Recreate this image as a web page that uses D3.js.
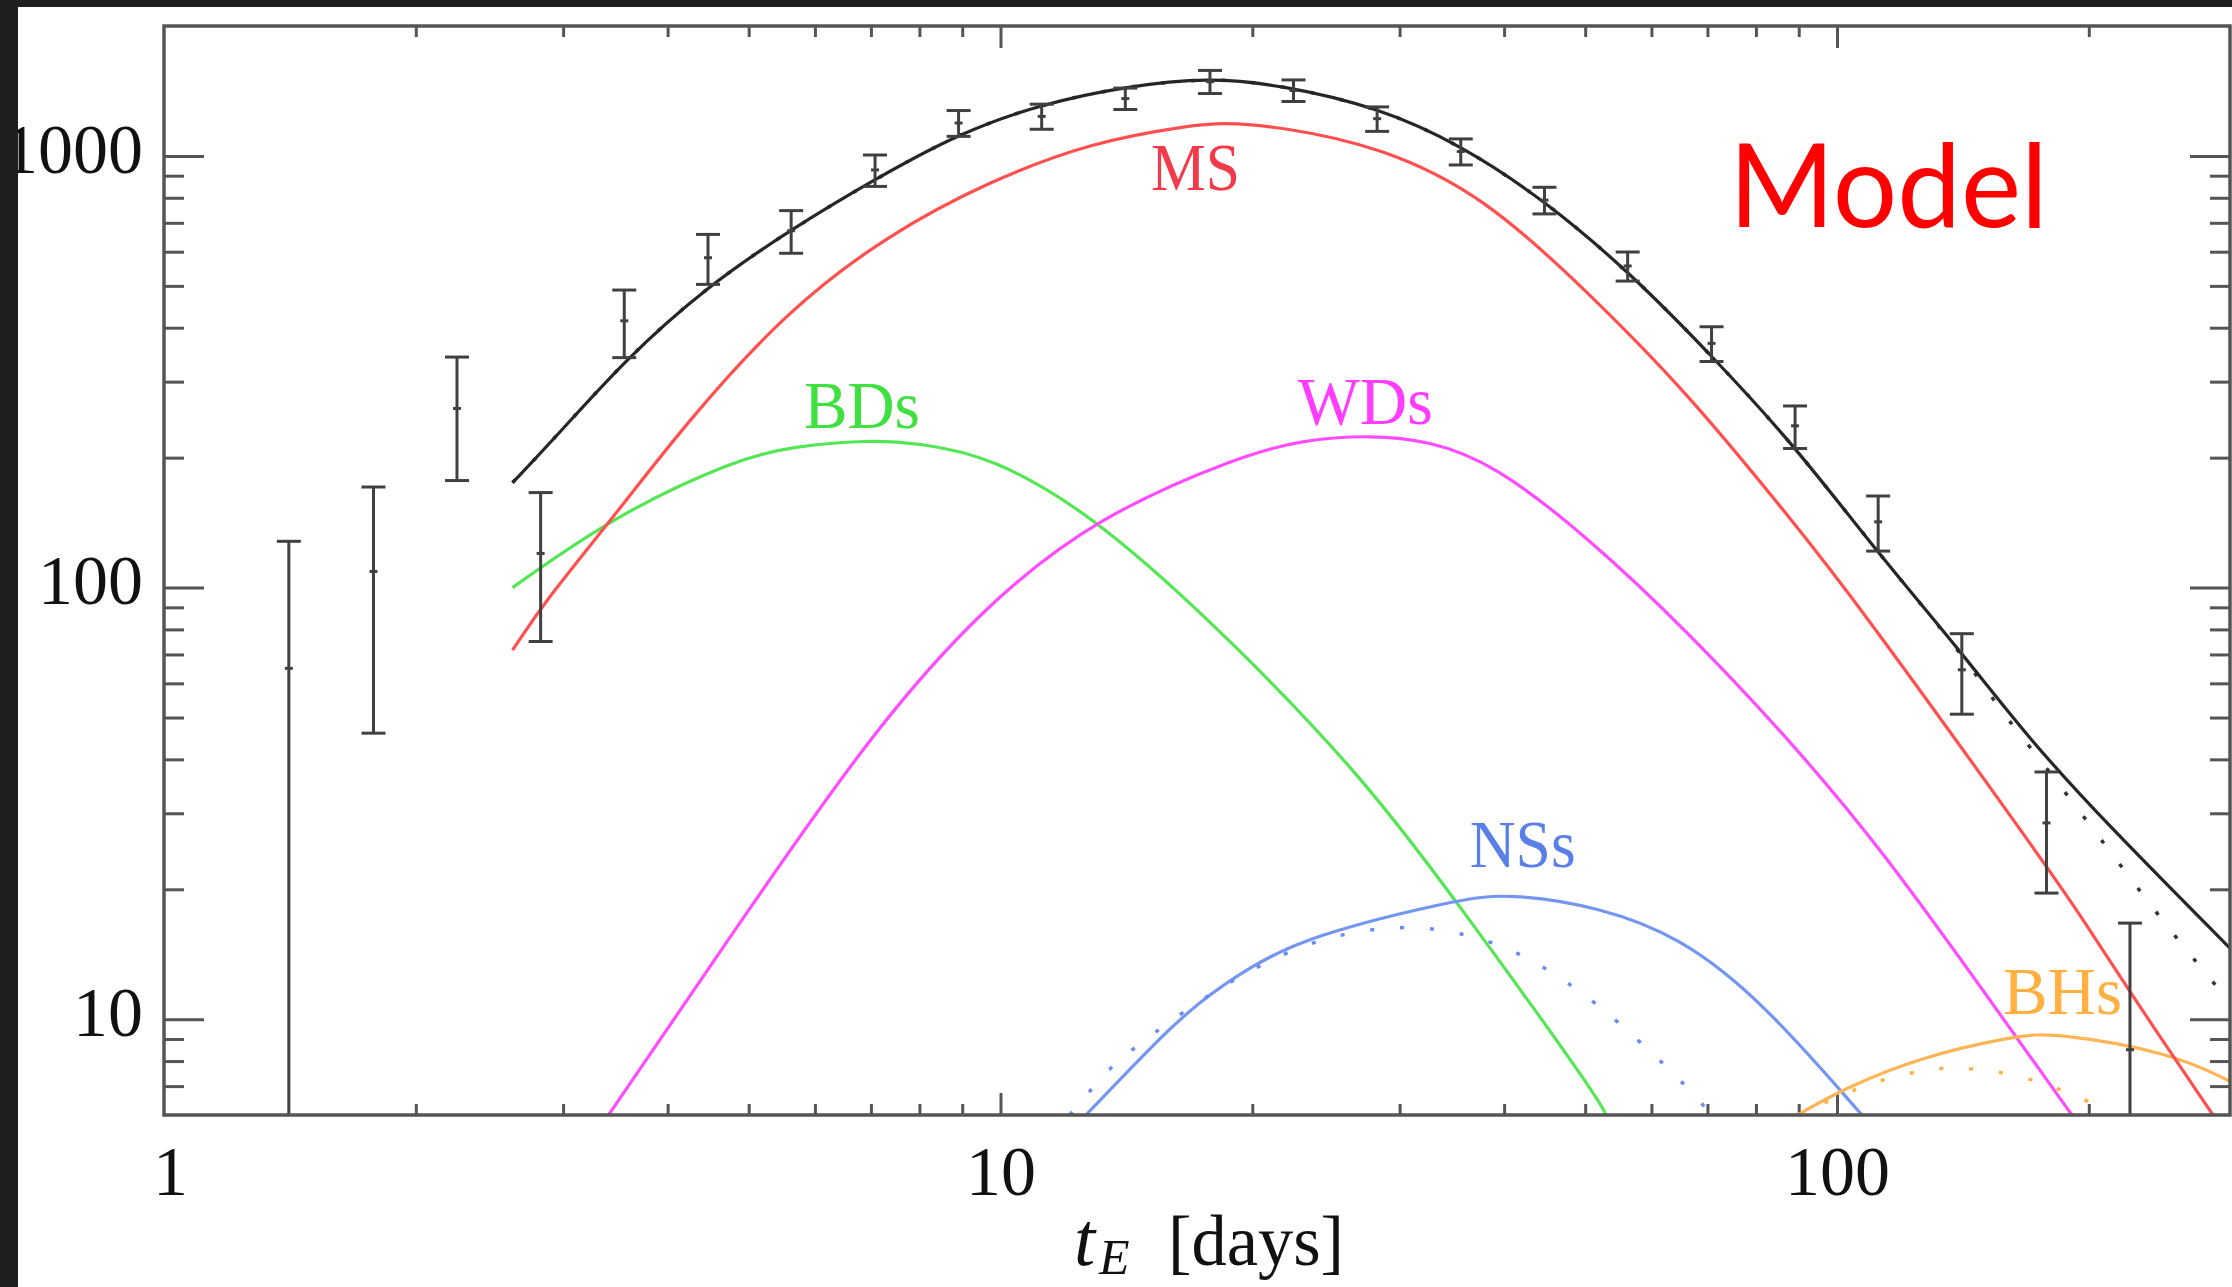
<!DOCTYPE html>
<html>
<head>
<meta charset="utf-8">
<script src="https://cdn.jsdelivr.net/npm/d3@7"></script>
<style>
  html, body { margin: 0; padding: 0; background: #ffffff; }
  svg { display: block; }
</style>
</head>
<body>
<script>
// ---------------- DATA ----------------
// observed event-rate histogram: bin centres (t_E in days), value, error-bar ends
const tBins   = [1.41, 1.78, 2.24, 2.82, 3.55, 4.47, 5.62, 7.08, 8.91, 11.2, 14.1, 17.8, 22.4, 28.2, 35.5, 44.7, 56.2, 70.8, 89.1, 112, 141, 178, 224];
const obsValue = [65, 109, 260, 120, 415, 581, 671, 928, 1192, 1235, 1358, 1486, 1418, 1220, 1024, 790, 556, 368, 237, 142, 64.5, 28.5, 8.5];
const obsLow   = [2, 46, 177, 75, 341, 504, 595, 850, 1110, 1153, 1281, 1395, 1337, 1140, 953, 734, 513, 334, 210, 121.5, 50.9, 19.6, 0.3];
const obsHigh  = [128, 171, 342, 166, 489, 658, 747, 1005, 1274, 1318, 1436, 1578, 1500, 1299, 1095, 846, 599, 402, 263.5, 163, 78.2, 37.4, 16.7];

// model curves: [t_E, value]
const totalModel = [[2.61,175],[2.92,220],[3.56,338],[4.46,499],[5.62,676],[7.08,884],[8.94,1131],[11.18,1318],[14.09,1449],[17.8,1520],[21.59,1460],[28.19,1299],[35.52,1060],[44.77,788],[56.48,538],[70.7,346],[89.07,213],[111.6,121],[140.7,71],[170.1,44.3],[210.3,28.3],[296.6,14.45]];
const totalModelAlt = [[2.61,175],[2.92,220],[3.56,338],[4.46,499],[5.62,676],[7.08,884],[8.94,1131],[11.18,1318],[14.09,1449],[17.8,1520],[21.59,1460],[28.19,1299],[35.52,1060],[44.77,788],[56.48,538],[70.7,346],[89.07,213],[111.6,121],[140.7,71],[156.6,52],[173.9,40.6],[210.3,25],[243.3,17.2],[269.4,13.5],[296.6,10.8]];
const msCurve  = [[2.61,71.6],[2.86,93.6],[3.46,147],[4.18,237],[5.54,437],[7.34,658],[9.71,875],[12.87,1079],[17.03,1180],[18.4,1195],[21.59,1170],[28.58,1049],[37.84,807],[50.11,489],[66.36,282],[87.85,145],[105.1,93.6],[172.5,24.7],[195.2,17.5],[220.4,12.1],[281.5,6]];
const bdCurve  = [[2.61,100],[3.46,147],[4.82,198],[5.62,212],[6.94,220],[7.99,216],[9.71,202],[13.04,146],[19.23,73],[27.28,35.8],[35.0,18.9],[52.1,6.49],[52.9,6]];
const wdCurve  = [[3.40,6],[5.09,18.9],[7.06,46.8],[9.53,90.3],[13.04,146],[19.23,201],[22.9,220],[27.81,225.6],[32.5,219],[38.8,194],[50.11,132],[66.36,79],[87.85,44.3],[113.2,24.7],[152.4,11.07],[190.9,6]];
const nsCurve  = [[12.65,6],[15.4,8.94],[17.2,10.9],[19.82,13.2],[23.4,15.6],[35.0,18.9],[40.5,19.6],[52.1,18.2],[65.0,15.5],[81.2,11.07],[107.1,6]];
const nsCurveAlt = [[12.1,6],[13.4,7.6],[14.3,8.47],[17.5,11.3],[22.8,15.1],[29.0,16.5],[33.9,16.2],[39.5,15.0],[45.4,13.0],[51.5,10.9],[55.0,9.76],[61.6,8.0],[65.0,7.2],[69.5,6.3],[70.3,6]];
const bhCurve  = [[89.7,6],[101.8,6.91],[127.0,8.23],[163.9,9.15],[180.8,9.32],[251.6,8.37],[296.6,7.14]];
const bhCurveAlt = [[89.7,6],[110.4,7.22],[129.6,7.69],[141.0,7.75],[165.2,7.46],[190.5,6.72],[206.8,6.27],[208.8,6]];

// axis ticks and labels
const xMajorTicks = [10, 100];
const xMinorTicks = [2, 3, 4, 5, 6, 7, 8, 9, 20, 30, 40, 50, 60, 70, 80, 90, 200];
const xLabelValues = [1, 10, 100];
const xTickLabels = ["1", "10", "100"];
const yMajorTicks = [10, 100, 1000];
const yMinorTicks = [7, 8, 9, 20, 30, 40, 50, 60, 70, 80, 90, 200, 300, 400, 500, 600, 700, 800, 900];
const yTickLabels = ["10", "100", "1000"];

// curve labels (anchored in data coordinates)
const curveLabels = [
  { text: "MS",  t: 17.1, v: 834,  color: "#f23a4a", width: 89 },
  { text: "BDs", t: 6.83, v: 234,  color: "#3fe03f", width: 116 },
  { text: "WDs", t: 27.3, v: 239,  color: "#ff3cff", width: 135 },
  { text: "NSs", t: 42.1, v: 22.5, color: "#5b7fe8", width: 106 },
  { text: "BHs", t: 186,  v: 10.3, color: "#ffb040", width: 119 }
];
const modelLabel = { text: "Model", t: 115.2, v: 685 };

// ---------------- DRAWING ----------------
const W = 2232, H = 1287;
const plot = { left: 164, right: 2230, top: 26, bottom: 1115 };

const svg = d3.select("body").append("svg").attr("width", W).attr("height", H);
svg.append("rect").attr("width", W).attr("height", H).attr("fill", "#ffffff");

const x = d3.scaleLog().domain([1, 295]).range([plot.left, plot.right]);
const y = d3.scaleLog().domain([6, 2000]).range([plot.bottom, plot.top]);
const yc = y.copy().clamp(true);

svg.append("defs").append("clipPath").attr("id", "plotclip")
  .append("rect").attr("x", plot.left).attr("y", plot.top)
  .attr("width", plot.right - plot.left).attr("height", plot.bottom - plot.top);

const serif = "'Liberation Serif', 'Times New Roman', serif";
const axisColor = "#555";

function styleAxis(g) {
  g.select(".domain").remove();
  g.selectAll(".tick line").attr("stroke", axisColor).attr("stroke-width", 3);
}

// ticks: bottom
svg.append("g").attr("transform", `translate(0,${plot.bottom})`)
  .call(d3.axisBottom(x).tickValues(xMajorTicks).tickSize(-22).tickSizeOuter(0).tickFormat(""))
  .call(styleAxis);
svg.append("g").attr("transform", `translate(0,${plot.bottom})`)
  .call(d3.axisBottom(x).tickValues(xMinorTicks).tickSize(-11).tickSizeOuter(0).tickFormat(""))
  .call(styleAxis);
// ticks: top
svg.append("g").attr("transform", `translate(0,${plot.top})`)
  .call(d3.axisTop(x).tickValues(xMajorTicks).tickSize(-22).tickSizeOuter(0).tickFormat(""))
  .call(styleAxis);
svg.append("g").attr("transform", `translate(0,${plot.top})`)
  .call(d3.axisTop(x).tickValues(xMinorTicks).tickSize(-11).tickSizeOuter(0).tickFormat(""))
  .call(styleAxis);
// ticks: left
svg.append("g").attr("transform", `translate(${plot.left},0)`)
  .call(d3.axisLeft(y).tickValues(yMajorTicks).tickSize(-40).tickSizeOuter(0).tickFormat(""))
  .call(styleAxis);
svg.append("g").attr("transform", `translate(${plot.left},0)`)
  .call(d3.axisLeft(y).tickValues(yMinorTicks).tickSize(-20).tickSizeOuter(0).tickFormat(""))
  .call(styleAxis);
// ticks: right
svg.append("g").attr("transform", `translate(${plot.right},0)`)
  .call(d3.axisRight(y).tickValues(yMajorTicks).tickSize(-40).tickSizeOuter(0).tickFormat(""))
  .call(styleAxis);
svg.append("g").attr("transform", `translate(${plot.right},0)`)
  .call(d3.axisRight(y).tickValues(yMinorTicks).tickSize(-20).tickSizeOuter(0).tickFormat(""))
  .call(styleAxis);

// tick labels
const xl = svg.append("g").attr("transform", `translate(0,${plot.bottom})`)
  .call(d3.axisBottom(x).tickValues(xLabelValues).tickSize(0).tickPadding(30).tickSizeOuter(0)
    .tickFormat((d, i) => xTickLabels[i]));
xl.select(".domain").remove();
xl.selectAll("text").attr("font-family", serif).attr("font-size", 70).attr("fill", "#111")
  .attr("dx", (d, i) => i === 0 ? 6 : 0);

const yl = svg.append("g").attr("transform", `translate(${plot.left},0)`)
  .call(d3.axisLeft(y).tickValues(yMajorTicks).tickSize(0).tickPadding(21).tickSizeOuter(0)
    .tickFormat((d, i) => yTickLabels[i]));
yl.select(".domain").remove();
yl.selectAll("text").attr("font-family", serif).attr("font-size", 70).attr("fill", "#111").attr("dy", "0.23em");

// axis title  t_E [days]
const titleY = 1265;
svg.append("text").attr("x", 1074).attr("y", titleY).attr("font-family", serif)
  .attr("font-size", 76).attr("font-style", "italic").attr("fill", "#111").text("t");
svg.append("text").attr("x", 1099).attr("y", titleY + 9).attr("font-family", serif)
  .attr("font-size", 50).attr("font-style", "italic").attr("fill", "#111").text("E");
svg.append("text").attr("x", 1168).attr("y", titleY).attr("font-family", serif)
  .attr("font-size", 72).attr("fill", "#111")
  .attr("textLength", 176).attr("lengthAdjust", "spacingAndGlyphs").text("[days]");

// curves
const line = d3.line().x(d => x(d[0])).y(d => y(d[1])).curve(d3.curveBasis);
const curves = svg.append("g").attr("clip-path", "url(#plotclip)");

function drawCurve(data, color, dotted) {
  curves.append("path").datum(data).attr("d", line)
    .attr("fill", "none").attr("stroke", color).attr("stroke-width", dotted ? 3.5 : 3.2)
    .attr("stroke-dasharray", dotted ? "4 26" : null)
    .attr("stroke-linejoin", "round");
}
drawCurve(bdCurve, "#55e655", false);
drawCurve(wdCurve, "#ff4cff", false);
drawCurve(nsCurve, "#7495f0", false);
drawCurve(nsCurveAlt, "#6a8cf0", true);
drawCurve(bhCurve, "#ffb455", false);
drawCurve(bhCurveAlt, "#ffb040", true);
drawCurve(msCurve, "#ff5050", false);
drawCurve(totalModelAlt, "#333", true);
drawCurve(totalModel, "#262626", false);

// error bars
const bars = svg.append("g").attr("clip-path", "url(#plotclip)")
  .attr("stroke", "#404040").attr("stroke-width", 3).attr("fill", "none");
tBins.forEach((t, i) => {
  const cx = x(t);
  const yTop = yc(obsHigh[i]);
  const yBot = yc(obsLow[i]);
  bars.append("line").attr("x1", cx).attr("x2", cx).attr("y1", yTop).attr("y2", yBot);
  bars.append("line").attr("x1", cx - 12).attr("x2", cx + 12).attr("y1", yTop).attr("y2", yTop);
  if (obsLow[i] >= 6) {
    bars.append("line").attr("x1", cx - 12).attr("x2", cx + 12).attr("y1", yBot).attr("y2", yBot);
  }
  if (obsValue[i] >= 6) {
    bars.append("line").attr("x1", cx - 4).attr("x2", cx + 4)
      .attr("y1", y(obsValue[i])).attr("y2", y(obsValue[i]));
  }
});

// frame
svg.append("rect").attr("x", plot.left).attr("y", plot.top)
  .attr("width", plot.right - plot.left).attr("height", plot.bottom - plot.top)
  .attr("fill", "none").attr("stroke", axisColor).attr("stroke-width", 3.5);

// curve labels
curveLabels.forEach(l => {
  svg.append("text").attr("x", x(l.t)).attr("y", y(l.v))
    .attr("text-anchor", "middle").attr("font-family", serif).attr("font-size", 68)
    .attr("fill", l.color).attr("textLength", l.width).attr("lengthAdjust", "spacingAndGlyphs")
    .text(l.text);
});

// "Model" annotation
svg.append("text").attr("x", x(modelLabel.t)).attr("y", y(modelLabel.v))
  .attr("text-anchor", "middle").attr("font-family", "Lato, 'Open Sans', sans-serif")
  .attr("font-size", 117).attr("fill", "#ff0000")
  .attr("textLength", 319).attr("lengthAdjust", "spacingAndGlyphs")
  .text(modelLabel.text);

// dark screenshot border (left and top)
svg.append("rect").attr("x", 0).attr("y", 0).attr("width", 18).attr("height", H).attr("fill", "#1f1f1f");
svg.append("rect").attr("x", 0).attr("y", 0).attr("width", W).attr("height", 7).attr("fill", "#1f1f1f");
</script>
</body>
</html>
